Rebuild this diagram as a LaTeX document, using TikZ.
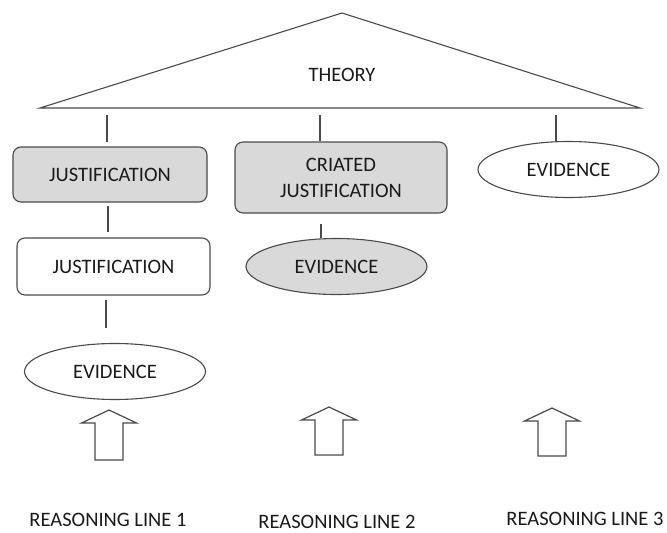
\documentclass[tikz,border=0pt]{standalone}
\usepackage{fontspec}
\setmainfont{Carlito}
\usetikzlibrary{shapes.geometric}
\definecolor{boxgray}{HTML}{D9D9D9}
\definecolor{linegray}{HTML}{4A4A4A}
\definecolor{textgray}{HTML}{1A1A1A}
\tikzset{
  lbl/.style={font=\fontsize{20.5}{26}\selectfont, text=textgray, inner sep=0pt},
  rbox/.style={lbl, draw=linegray, line width=1.1pt, rounded corners=8pt, align=center},
  gbox/.style={rbox, fill=boxgray},
  wbox/.style={rbox, fill=white},
  evid/.style={lbl, ellipse, draw=linegray, line width=1.1pt, minimum width=181pt, minimum height=56pt},
  conn/.style={draw=linegray, line width=1.1pt},
  barrow/.style={draw=linegray, line width=1.2pt, fill=white, line join=miter}
}
\begin{document}
\begin{tikzpicture}[x=1pt,y=-1pt]
\useasboundingbox (0,0) rectangle (667,533);
% theory triangle
\coordinate (apex) at (342,13);
\coordinate (bl) at (40,108);
\coordinate (br) at (640,108);
\draw[conn] (bl) -- (apex) -- (br) -- cycle;
\node[lbl] (theory) at (342,75) {THEORY};
% column coordinates on the base
\coordinate (c1) at (107,108);
\coordinate (c2) at (320,108);
\coordinate (c3) at (556,108);
\coordinate (d1) at (108,108);
\coordinate (d2) at (321,108);
\coordinate (d3) at (106,108);
% nodes
\node[gbox, minimum width=194pt, minimum height=55pt] (j1) at (110,174.5) {JUSTIFICATION};
\node[gbox, minimum width=212pt, minimum height=71pt] (cj) at (341,177.5) {CRIATED\\JUSTIFICATION};
\node[wbox, minimum width=193pt, minimum height=57pt] (j2) at (113.5,266.5) {JUSTIFICATION};
\node[evid, fill=boxgray] (eg) at (336.5,266.5) {EVIDENCE};
\node[evid, fill=white] (er) at (568.5,169.5) {EVIDENCE};
\node[evid, fill=white] (el) at (115,371.5) {EVIDENCE};
% connectors
\draw[conn, shorten <=7pt, shorten >=4pt] (c1) -- (c1 |- j1.north);
\draw[conn, shorten <=7pt] (c2) -- (c2 |- cj.north);
\draw[conn, shorten <=7pt] (c3) -- (c3 |- er.north);
\draw[conn, shorten <=3pt, shorten >=5pt] (d1 |- j1.south) -- (d1 |- j2.north);
\draw[conn, shorten <=10pt] (d2 |- cj.south) -- (d2 |- eg.north);
\draw[conn, shorten <=4pt, shorten >=15pt] (d3 |- j2.south) -- (d3 |- el.north);
% block arrows
\foreach \cx/\tip/\bot in {109/410/460, 329/407/455, 552/408/456}{
  \draw[barrow] (\cx,\tip) -- (\cx+27.5,\tip+13) -- (\cx+14,\tip+13) -- (\cx+14,\bot)
    -- (\cx-14,\bot) -- (\cx-14,\tip+13) -- (\cx-27.5,\tip+13) -- cycle;
}
% labels
\node[lbl] (r1) at (108,520) {REASONING LINE 1};
\node[lbl] (r2) at (337,522) {REASONING LINE 2};
\node[lbl] (r3) at (585,519) {REASONING LINE 3};
\end{tikzpicture}
\end{document}
